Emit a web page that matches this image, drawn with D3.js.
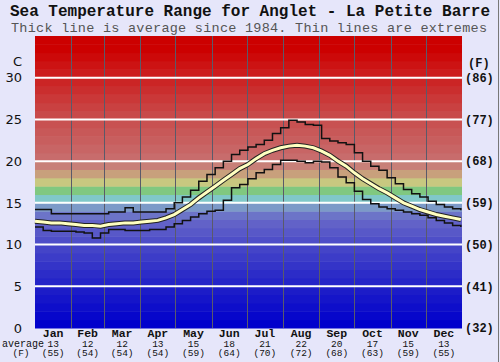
<!DOCTYPE html>
<html>
<head>
<meta charset="utf-8">
<script src="https://cdn.jsdelivr.net/npm/d3@7"></script>
<style>
  body { margin: 0; background: #e6e6fa; }
  svg { display: block; }
</style>
</head>
<body>
<svg id="chart" width="500" height="362"></svg>
<script>
// weekly sample days (day of year)
const days = d3.range(0, 365, 7)
const maxTemp = [14.2, 14.2, 13.7, 13.7, 13.7, 13.7, 13.7, 13.7, 13.7, 13.9, 13.9, 14.4, 13.9, 13.9,
  13.9, 13.9, 14.3, 15.0, 15.7, 16.5, 17.6, 18.4, 19.2, 20.0, 20.8, 21.3, 21.7, 22.0, 22.5, 23.3,
  24.0, 24.9, 24.7, 24.4, 24.3, 22.7, 22.4, 22.2, 22.0, 21.0, 20.0, 19.4, 18.9, 18.0, 17.3, 16.6,
  16.1, 15.7, 15.2, 14.8, 14.5, 14.3, 14.1]
const minTemp = [12.1, 11.7, 11.6, 11.6, 11.6, 11.5, 11.4, 10.8, 11.4, 11.8, 11.8, 11.7, 11.7, 11.7,
  11.8, 11.8, 12.1, 12.5, 12.9, 13.3, 13.7, 14.0, 14.1, 15.3, 16.8, 17.2, 17.9, 18.6, 19.0, 19.6,
  20.1, 20.1, 20.0, 19.8, 20.0, 19.9, 19.2, 18.1, 17.4, 16.4, 15.4, 14.9, 14.5, 14.3, 14.1, 13.9,
  13.7, 13.5, 13.2, 12.9, 12.6, 12.3, 12.1]
const avgTemp = [12.8, 12.7, 12.6, 12.6, 12.5, 12.4, 12.3, 12.3, 12.2, 12.4, 12.5, 12.6, 12.6, 12.7,
  12.8, 12.9, 13.2, 13.6, 14.2, 14.8, 15.6, 16.3, 17.0, 17.7, 18.4, 19.1, 19.6, 20.3, 20.9, 21.3,
  21.6, 21.8, 21.9, 21.8, 21.6, 21.2, 20.7, 20.0, 19.4, 18.6, 17.9, 17.3, 16.7, 16.2, 15.6, 15.0,
  14.6, 14.2, 13.9, 13.6, 13.4, 13.2, 13.0]

const months = ['Jan', 'Feb', 'Mar', 'Apr', 'May', 'Jun', 'Jul', 'Aug', 'Sep', 'Oct', 'Nov', 'Dec']
const monthDays = [31, 28, 31, 30, 31, 30, 31, 31, 30, 31, 30, 31]
const monthAvgC = [13, 12, 12, 13, 15, 18, 21, 22, 20, 17, 15, 13]
const monthAvgF = [55, 54, 54, 54, 59, 64, 70, 72, 68, 63, 59, 55]
const cTicks = [0, 5, 10, 15, 20, 25, 30]
const fTicks = ['(32)', '(41)', '(50)', '(59)', '(68)', '(77)', '(86)']

let dimensions = { left: 35, right: 462, top: 36, bottom: 328 }

let svg = d3.select('#chart')

let xScale = d3.scaleLinear().domain([0, 365]).range([dimensions.left, dimensions.right])
let yScale = d3.scaleLinear().domain([0, 35]).range([dimensions.bottom, dimensions.top])

// colour bands, one per degree
let bandColor = d3.scaleLinear()
  .domain([0, 4, 9, 11, 12, 13, 14, 15, 16, 17, 18, 19, 20, 25, 30, 33])
  .range(['#0000cc', '#1c1cc8', '#4444c8', '#5858c8', '#6262c8', '#6c74c8', '#7c9ac8', '#80c8c8',
    '#80c880', '#c8c880', '#c8a07c', '#c88078', '#c86c6c', '#c84a4a', '#cc1c1c', '#cc0000'])
  .interpolate(d3.interpolateRgb)
  .clamp(true)

svg.append('g').selectAll('rect')
  .data(d3.range(0, 35))
  .enter()
  .append('rect')
  .attr('x', dimensions.left)
  .attr('width', dimensions.right - dimensions.left)
  .attr('y', d => yScale(d + 1))
  .attr('height', d => yScale(d) - yScale(d + 1) + 0.5)
  .attr('fill', d => bandColor(d))

// month boundaries
let monthStart = [0]
monthDays.forEach((m, i) => monthStart.push(monthStart[i] + m))

svg.append('g').selectAll('line')
  .data(monthStart.slice(1, 12))
  .enter()
  .append('line')
  .attr('x1', d => Math.round(xScale(d)) + 0.5)
  .attr('x2', d => Math.round(xScale(d)) + 0.5)
  .attr('y1', dimensions.top)
  .attr('y2', dimensions.bottom)
  .attr('stroke', '#5a5a6a')
  .attr('stroke-width', 1)

svg.append('g').selectAll('line')
  .data(cTicks.slice(1))
  .enter()
  .append('line')
  .attr('x1', dimensions.left)
  .attr('x2', dimensions.right)
  .attr('y1', d => yScale(d))
  .attr('y2', d => yScale(d))
  .attr('stroke', '#ffffff')
  .attr('stroke-width', 2)

// lines
let stepLine = d3.line()
  .x((d, i) => xScale(days[i]))
  .y(d => yScale(d))
  .curve(d3.curveStepAfter)

let avgLine = d3.line()
  .x((d, i) => xScale(days[i]))
  .y(d => yScale(d))

svg.append('path').attr('d', stepLine(maxTemp))
  .attr('fill', 'none').attr('stroke', '#111').attr('stroke-width', 1.5)
svg.append('path').attr('d', stepLine(minTemp))
  .attr('fill', 'none').attr('stroke', '#111').attr('stroke-width', 1.5)
svg.append('path').attr('d', avgLine(avgTemp))
  .attr('fill', 'none').attr('stroke', '#222').attr('stroke-width', 5)
svg.append('path').attr('d', avgLine(avgTemp))
  .attr('fill', 'none').attr('stroke', '#ffffc0').attr('stroke-width', 3)

// titles
svg.append('text')
  .attr('x', 250).attr('y', 16)
  .attr('text-anchor', 'middle')
  .style('font', 'bold 16px "Liberation Mono", monospace')
  .attr('fill', '#111')
  .text('Sea Temperature Range for Anglet - La Petite Barre')
svg.append('text')
  .attr('x', 249).attr('y', 32)
  .attr('text-anchor', 'middle')
  .attr('textLength', 476)
  .style('font', '13.5px "Liberation Mono", monospace')
  .attr('fill', '#555')
  .text('Thick line is average since 1984. Thin lines are extremes')

// left axis (C)
svg.append('g').selectAll('text')
  .data(cTicks)
  .enter()
  .append('text')
  .attr('x', 22)
  .attr('y', d => yScale(d))
  .attr('dy', '0.36em')
  .attr('text-anchor', 'end')
  .style('font', '13px "DejaVu Sans", sans-serif')
  .attr('fill', '#111')
  .text(d => d)
svg.append('text')
  .attr('x', 22).attr('y', 61).attr('dy', '0.36em')
  .attr('text-anchor', 'end')
  .style('font', '13px "DejaVu Sans", sans-serif')
  .attr('fill', '#111')
  .text('C')

// right axis (F)
svg.append('g').selectAll('text')
  .data(fTicks)
  .enter()
  .append('text')
  .attr('x', 465)
  .attr('y', (d, i) => yScale(cTicks[i]))
  .attr('dy', '0.36em')
  .style('font', 'bold 12px "Liberation Mono", monospace')
  .attr('fill', '#111')
  .text(d => d)
svg.append('text')
  .attr('x', 468).attr('y', 63).attr('dy', '0.36em')
  .style('font', 'bold 12px "Liberation Mono", monospace')
  .attr('fill', '#111')
  .text('(F)')

// month labels
let monthMid = months.map((m, i) => monthStart[i] + monthDays[i] / 2)
let mg = svg.append('g').selectAll('g')
  .data(months)
  .enter()
  .append('g')
  .attr('transform', (d, i) => `translate(${xScale(monthMid[i])},0)`)
mg.append('text')
  .attr('y', 336.5)
  .attr('text-anchor', 'middle')
  .style('font', 'bold 11.5px "Liberation Mono", monospace')
  .attr('fill', '#111')
  .text(d => d)
mg.append('text')
  .attr('y', 346.5)
  .attr('text-anchor', 'middle')
  .style('font', '9.5px "Liberation Mono", monospace')
  .attr('fill', '#111')
  .text((d, i) => monthAvgC[i])
mg.append('text')
  .attr('y', 356)
  .attr('text-anchor', 'middle')
  .style('font', '9.5px "Liberation Mono", monospace')
  .attr('fill', '#111')
  .text((d, i) => `(${monthAvgF[i]})`)

svg.append('text')
  .attr('x', 2).attr('y', 346.5)
  .style('font', '10px "Liberation Mono", monospace')
  .attr('fill', '#111')
  .text('average')
svg.append('text')
  .attr('x', 21).attr('y', 356)
  .attr('text-anchor', 'middle')
  .style('font', '9.5px "Liberation Mono", monospace')
  .attr('fill', '#111')
  .text('(F)')

svg.append('line')
  .attr('x1', 498.5).attr('x2', 498.5).attr('y1', 0).attr('y2', 362)
  .attr('stroke', '#777')
</script>
</body>
</html>
